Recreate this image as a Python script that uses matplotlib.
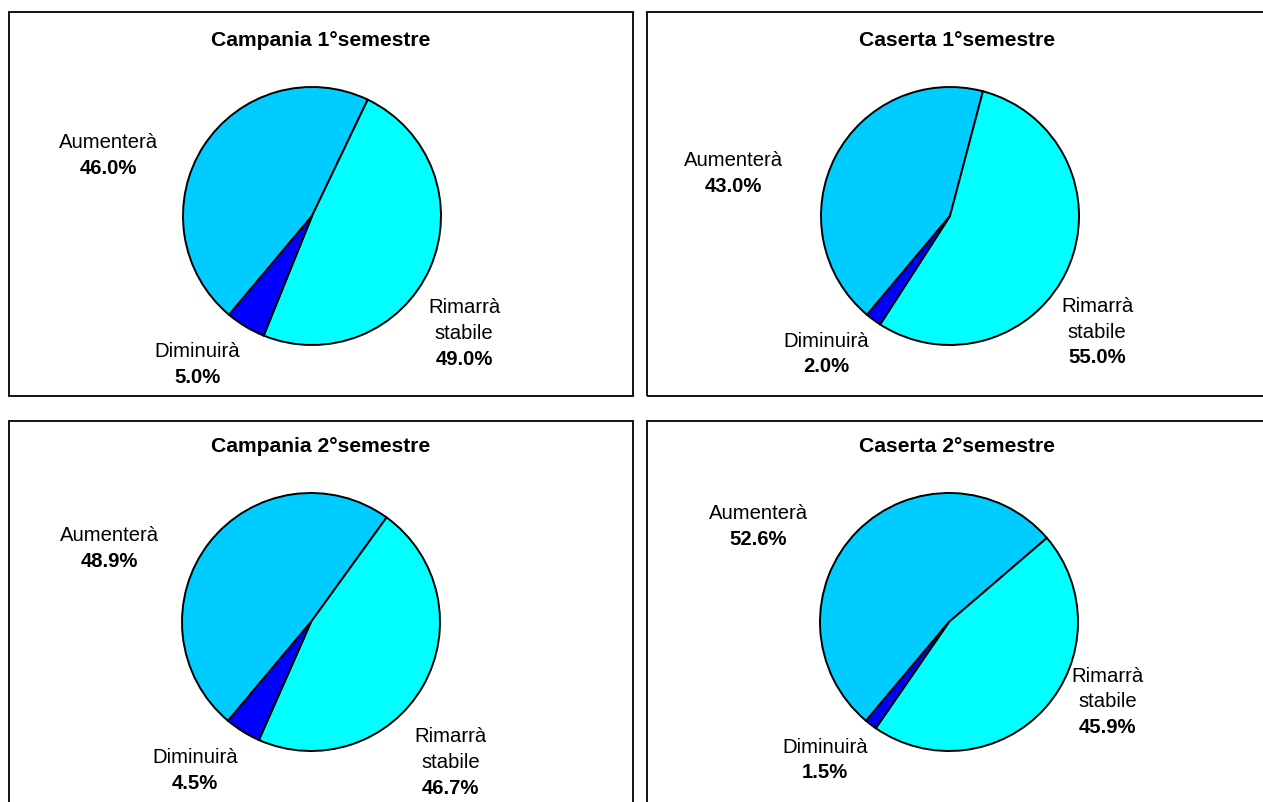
import matplotlib

matplotlib.use("Agg")
import matplotlib.pyplot as plt
from matplotlib.patches import Rectangle

plt.rcParams["font.family"] = ["Liberation Sans", "DejaVu Sans"]

# ---- data ----
CATEGORIES = ["Aumenterà", "Rimarrà\nstabile", "Diminuirà"]
TITLES = ["Campania 1°semestre", "Caserta 1°semestre",
          "Campania 2°semestre", "Caserta 2°semestre"]
campania_1 = [46.0, 49.0, 5.0]
caserta_1 = [43.0, 55.0, 2.0]
campania_2 = [48.9, 46.7, 4.5]
caserta_2 = [52.6, 45.9, 1.5]
SERIES = [campania_1, caserta_1, campania_2, caserta_2]

COLORS = ["#00CCFF", "#00FFFF", "#0000FF"]

# ---- layout (pixels on a 1263x802 canvas) ----
W, H = 1263, 802
R = 129
FS = 14.6
# panel boxes: x0, y0 (top), x1, y1 (bottom)
PANELS = [(9, 12, 633, 396), (647, 12, 1270, 396),
          (9, 421, 633, 812), (647, 421, 1270, 812)]
CENTERS = [(312, 216), (950, 216), (311, 622), (949, 622)]
TITLE_Y = [40, 40, 447, 447]
TITLE_X = [321, 957, 321, 957]
# label block centres in units of the pie radius (Aumenterà, Rimarrà, Diminuirà)
LABEL_POS = [
    [(-1.58, 0.47), (1.18, -0.91), (-0.89, -1.15)],
    [(-1.68, 0.33), (1.14, -0.90), (-0.96, -1.07)],
    [(-1.56, 0.57), (1.08, -1.09), (-0.90, -1.15)],
    [(-1.48, 0.74), (1.23, -0.62), (-0.96, -1.07)],
]

fig = plt.figure(figsize=(W / 100, H / 100), dpi=100)
fig.patch.set_facecolor("white")

for i, vals in enumerate(SERIES):
    x0, y0, x1, y1 = PANELS[i]
    fig.patches.append(Rectangle((x0 / W, 1 - y1 / H), (x1 - x0) / W, (y1 - y0) / H,
                                 transform=fig.transFigure, fill=False,
                                 edgecolor="black", linewidth=1.3))
    fig.text(TITLE_X[i] / W, 1 - TITLE_Y[i] / H, TITLES[i], ha="center", va="center",
             fontsize=15.2, fontweight="bold")

    cx, cy = CENTERS[i]
    ax = fig.add_axes([(cx - R) / W, 1 - (cy + R) / H, 2 * R / W, 2 * R / H])
    ax.pie(vals, colors=COLORS, startangle=-130, counterclock=False, radius=1,
           wedgeprops=dict(edgecolor="black", linewidth=1.4))
    ax.set_xlim(-1, 1)
    ax.set_ylim(-1, 1)
    ax.set_aspect("equal")
    ax.axis("off")

    for (lx, ly), name, v in zip(LABEL_POS[i], CATEGORIES, vals):
        lines = name.split("\n") + [f"{v:.1f}%"]
        step = 0.2
        top = ly + step * len(lines) / 2
        for k, line in enumerate(lines):
            bold = k == len(lines) - 1
            ax.text(lx, top - step * (k + 0.5), line, ha="center", va="center",
                    fontsize=FS, fontweight="bold" if bold else "normal", clip_on=False)

fig.savefig("out.png", dpi=100, facecolor="white")
